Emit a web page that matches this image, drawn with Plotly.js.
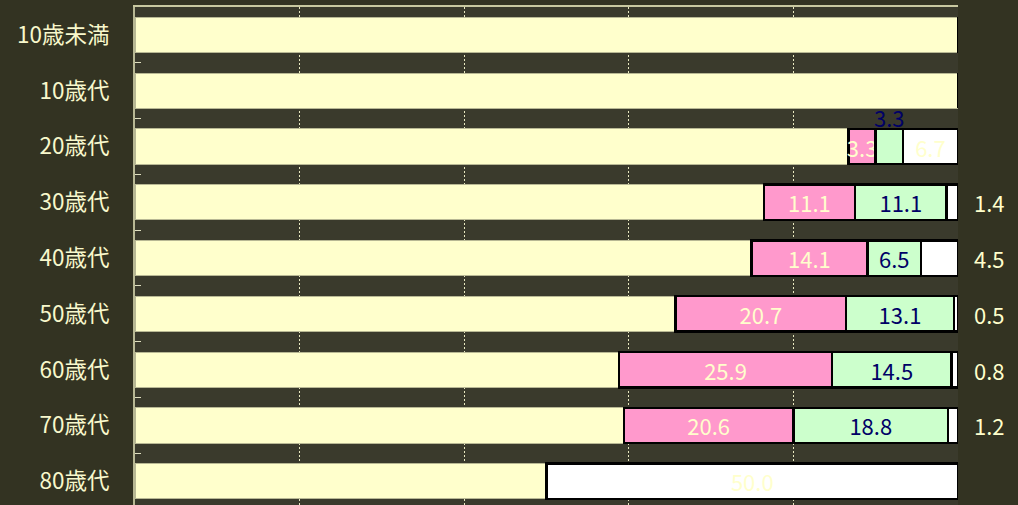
<!DOCTYPE html>
<html>
<head>
<meta charset="utf-8">
<script src="https://cdn.plot.ly/plotly-3.0.1.min.js"></script>
<style>html,body{margin:0;padding:0;background:#333322;}#chart{width:1018px;height:505px;}</style>
</head>
<body>
<div id="chart"></div>
<script>
const categories = ['10歳未満','10歳代','20歳代','30歳代','40歳代','50歳代','60歳代','70歳代','80歳代'];
const baseVals  = [100, 100, 86.7, 76.4, 74.9, 65.7, 58.8, 59.4, 50.0];
const pinkVals  = [0, 0, 3.3, 11.1, 14.1, 20.7, 25.9, 20.6, 0];
const greenVals = [0, 0, 3.3, 11.1, 6.5, 13.1, 14.5, 18.8, 0];
const whiteVals = [0, 0, 6.7, 1.4, 4.5, 0.5, 0.8, 1.2, 50.0];

const FONT = '"Noto Sans CJK JP", "Noto Sans", sans-serif';
const CREAM = '#ffffcc';
const NAVY = '#000066';
const LSIZE = 22;
const fmt = v => v.toFixed(1);

const pinkText = pinkVals.map(v => v > 0 ? fmt(v) : '');
const greenText = greenVals.map(v => v >= 4 ? fmt(v) : '');
const whiteText = whiteVals.map(v => v >= 5 ? fmt(v) : '');

const common = {type:'bar', orientation:'h', y:categories, hoverinfo:'skip',
  textposition:'inside', insidetextanchor:'middle', constraintext:'none', textangle:0};

const traces = [
  Object.assign({}, common, {x:baseVals, marker:{color:CREAM, line:{color:'#b8b894', width:1}}}),
  Object.assign({}, common, {x:pinkVals, text:pinkText, texttemplate:'%{text}',
    marker:{color:'#ff99cc', line:{color:'#000000', width:2.5}},
    insidetextfont:{family:FONT, size:LSIZE, color:CREAM}}),
  Object.assign({}, common, {x:greenVals, text:greenText, texttemplate:'%{text}',
    marker:{color:'#ccffcc', line:{color:'#000000', width:2.5}},
    insidetextfont:{family:FONT, size:LSIZE, color:NAVY}}),
  Object.assign({}, common, {x:whiteVals, text:whiteText, texttemplate:'%{text}',
    marker:{color:'#ffffff', line:{color:'#000000', width:2.5}},
    insidetextfont:{family:FONT, size:LSIZE, color:CREAM}})
];

const annotations = [];
categories.forEach((c, i) => {
  if (greenVals[i] > 0 && greenVals[i] < 4) {
    annotations.push({x: baseVals[i] + pinkVals[i] + greenVals[i] / 2, y: c, yshift: 30,
      text: fmt(greenVals[i]), showarrow:false, font:{family:FONT, size:LSIZE, color:NAVY}});
  }
  if (whiteVals[i] > 0 && whiteVals[i] < 5) {
    const total = baseVals[i] + pinkVals[i] + greenVals[i] + whiteVals[i];
    annotations.push({x: total, y: c, xshift: 31,
      text: fmt(whiteVals[i]), showarrow:false, font:{family:FONT, size:LSIZE, color:CREAM}});
  }
});

const layout = {
  width:1018, height:505,
  margin:{l:135, r:60, t:7, b:0, pad:0},
  paper_bgcolor:'#333322', plot_bgcolor:'#3a3a2c',
  barmode:'stack', bargap:0.367, showlegend:false,
  xaxis:{range:[0,100], showticklabels:false, ticks:'', zeroline:false,
    showgrid:true, gridcolor:'#e8e8c0', gridwidth:1, griddash:'2px,2px',
    showline:true, linecolor:'#c8c8a0', linewidth:2, mirror:true, side:'top'},
  yaxis:{type:'category', range:[8.425, -0.5], tickson:'boundaries', ticks:'inside',
    ticklen:6, tickwidth:1, tickcolor:'#e0e0c0', showgrid:false, zeroline:false,
    showline:true, linecolor:'#b8b894', linewidth:2,
    ticklabelstandoff:19,
    tickfont:{family:FONT, size:22.5, color:'#f8f8cc'}},
  annotations: annotations,
  font:{family:FONT}
};

Plotly.newPlot('chart', traces, layout, {staticPlot:true, displayModeBar:false});
</script>
</body>
</html>
